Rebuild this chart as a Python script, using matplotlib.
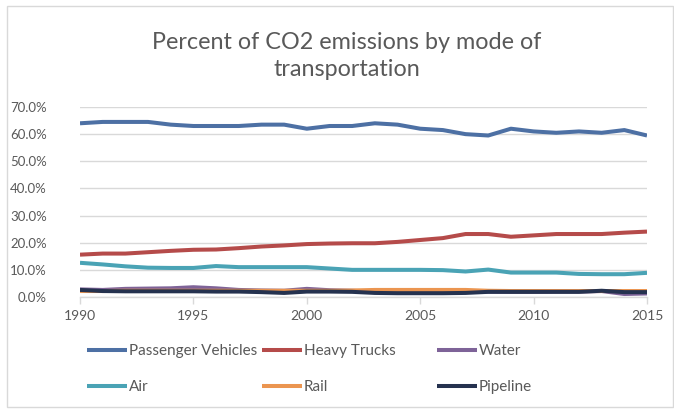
import matplotlib
matplotlib.use("Agg")
import matplotlib.pyplot as plt
from matplotlib.patches import Rectangle
from matplotlib.ticker import FuncFormatter

plt.rcParams['font.family'] = ['Lato', 'DejaVu Sans']

years = list(range(1990, 2016))

passenger_vehicles = [64.0, 64.5, 64.5, 64.5, 63.5, 63.0, 63.0, 63.0, 63.5, 63.5,
                      62.0, 63.0, 63.0, 64.0, 63.5, 62.0, 61.5, 60.0, 59.5, 62.0,
                      61.0, 60.5, 61.0, 60.5, 61.5, 59.5]
heavy_trucks = [15.6, 16.0, 16.0, 16.5, 17.0, 17.4, 17.5, 18.0, 18.6, 19.0,
                19.5, 19.7, 19.8, 19.8, 20.3, 21.0, 21.7, 23.2, 23.2, 22.2,
                22.7, 23.2, 23.2, 23.2, 23.7, 24.1]
water = [2.8, 2.6, 3.0, 3.1, 3.2, 3.6, 3.2, 2.6, 2.4, 2.3,
         3.0, 2.5, 2.3, 2.0, 2.0, 2.0, 2.0, 1.9, 2.0, 1.9,
         1.9, 2.0, 2.0, 2.2, 1.1, 1.3]
air = [12.6, 12.0, 11.3, 10.8, 10.7, 10.7, 11.4, 11.0, 11.0, 11.0,
       11.0, 10.5, 10.0, 10.0, 10.0, 10.0, 9.9, 9.4, 10.1, 9.0,
       9.0, 9.0, 8.5, 8.4, 8.4, 8.9]
rail = [2.2, 2.2, 2.3, 2.3, 2.3, 2.3, 2.3, 2.3, 2.3, 2.3,
        2.3, 2.3, 2.4, 2.6, 2.6, 2.6, 2.6, 2.6, 2.3, 2.2,
        2.2, 2.2, 2.2, 2.2, 2.2, 2.2]
pipeline = [2.6, 2.2, 2.1, 2.1, 2.1, 2.1, 2.0, 2.0, 1.8, 1.5,
            2.0, 2.0, 1.9, 1.5, 1.4, 1.4, 1.4, 1.5, 1.9, 1.9,
            1.9, 1.9, 1.9, 2.3, 1.8, 1.8]

series_names = ["Passenger Vehicles", "Heavy Trucks", "Water", "Air", "Rail", "Pipeline"]
series_values = [passenger_vehicles, heavy_trucks, water, air, rail, pipeline]
series_colors = ["#4D70A4", "#B54B4A", "#7E6398", "#4AA3B5", "#EB9550", "#25324F"]

x_ticks = [1990, 1995, 2000, 2005, 2010, 2015]
y_ticks = [0, 10, 20, 30, 40, 50, 60, 70]

TEXT = "#595959"
GRID = "#D9D9D9"

W, H = 674, 409
fig = plt.figure(figsize=(W / 100, H / 100), dpi=100)

# outer chart border
fig.patches.append(Rectangle((7 / W, 1 - 407 / H), (673 - 7) / W, (407 - 6) / H,
                             transform=fig.transFigure, fill=False,
                             edgecolor=GRID, linewidth=1.0))

ax = fig.add_axes([80 / W, 1 - 297 / H, (647 - 80) / W, (297 - 107) / H])

lines = []
for name, vals, col in zip(series_names, series_values, series_colors):
    ln, = ax.plot(years, vals, color=col, linewidth=2.9, solid_capstyle='butt',
                  solid_joinstyle='round', label=name)
    lines.append(ln)

ax.set_xlim(1990, 2015)
ax.set_ylim(0, 70)
ax.set_yticks(y_ticks)
ax.set_xticks(x_ticks)
ax.yaxis.set_major_formatter(FuncFormatter(lambda v, p: f"{v:.1f}%"))
ax.grid(axis='y', color=GRID, linewidth=1.0)
ax.set_axisbelow(True)
for side in ['left', 'right', 'top']:
    ax.spines[side].set_visible(False)
ax.spines['bottom'].set_color(GRID)
ax.spines['bottom'].set_linewidth(1.0)
ax.tick_params(axis='y', length=0, pad=24, labelsize=9.5, labelcolor=TEXT)
ax.tick_params(axis='x', length=5, width=1.0, color=GRID, direction='out',
               pad=4, labelsize=10, labelcolor=TEXT)
ax.patch.set_alpha(0)

fig.text(347 / W, 1 - 56 / H, "Percent of CO2 emissions by mode of\ntransportation",
         ha='center', va='center', fontsize=16.8, color=TEXT, linespacing=1.35)

# legend: three columns of two entries, evenly spaced
col_x = [87, 262, 437]
for i, cx in enumerate(col_x):
    hs = [lines[i], lines[i + 3]]
    fig.legend(handles=hs, labels=[h.get_label() for h in hs],
               loc='upper left', bbox_to_anchor=(cx / W, 1 - 344 / H),
               frameon=False, fontsize=11, labelcolor=TEXT,
               handlelength=2.6, handletextpad=0.15, borderpad=0,
               borderaxespad=0, labelspacing=1.45)

fig.savefig("out.png", dpi=100)
